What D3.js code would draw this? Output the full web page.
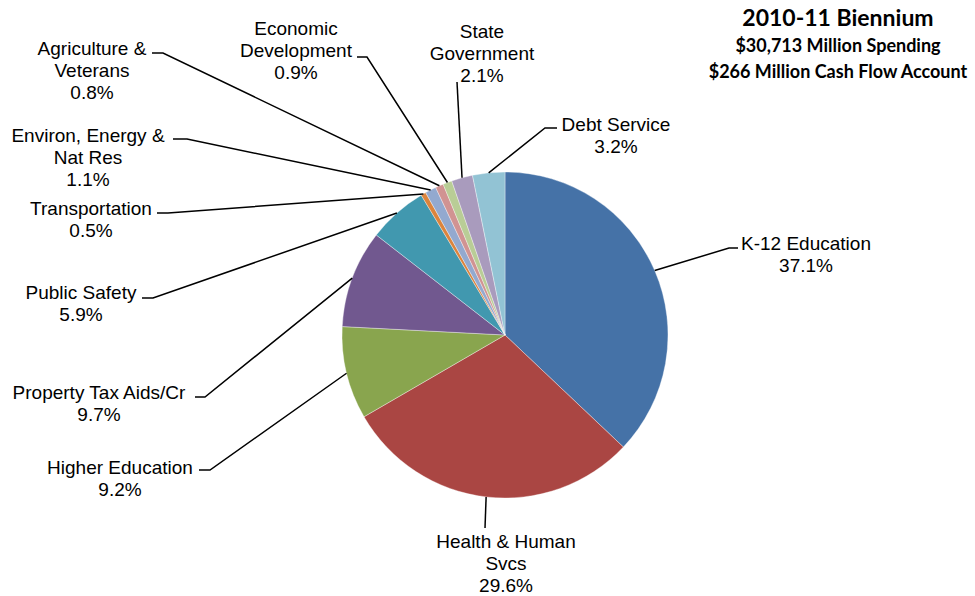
<!DOCTYPE html>
<html>
<head>
<meta charset="utf-8">
<script src="https://cdn.jsdelivr.net/npm/d3@7"></script>
<style>
  body { margin: 0; background: #fff; }
  svg { display: block; }
</style>
</head>
<body>
<div id="chart"></div>
<script>
// data, clockwise from 12 o'clock
const categories = ["K-12 Education", "Health & Human Svcs", "Higher Education", "Property Tax Aids/Cr",
    "Public Safety", "Transportation", "Environ, Energy & Nat Res", "Agriculture & Veterans",
    "Economic Development", "State Government", "Debt Service"];
const shares = [37.1, 29.6, 9.2, 9.7, 5.9, 0.5, 1.1, 0.8, 0.9, 2.1, 3.2];
const labelLines = [
    ["K-12 Education"], ["Health & Human", "Svcs"], ["Higher Education"], ["Property Tax Aids/Cr"],
    ["Public Safety"], ["Transportation"], ["Environ, Energy &", "Nat Res"], ["Agriculture &", "Veterans"],
    ["Economic", "Development"], ["State", "Government"], ["Debt Service"]
];
const titleLines = ["2010-11 Biennium", "$30,713 Million Spending", "$266 Million Cash Flow Account"];
const colors = ["#4572A7", "#AA4643", "#89A54E", "#71588F", "#4198AF", "#DB843D",
    "#93A9CF", "#D19392", "#B9CD96", "#A99BBD", "#92C3D4"];

// label placement: text centre x, first line y, leader elbow and end
const labelLayout = [
    { x: 806, y: 243, ex: 729, ey: 248, tx: 738 },
    { x: 506, y: 541, ex: 485, ey: 528, tx: 485 },
    { x: 120, y: 467, ex: 210, ey: 470, tx: 199 },
    { x: 99,  y: 392, ex: 205, ey: 397, tx: 195 },
    { x: 81,  y: 292, ex: 153, ey: 298, tx: 142 },
    { x: 91,  y: 208, ex: 168, ey: 213, tx: 157 },
    { x: 88,  y: 135, ex: 187, ey: 139, tx: 173 },
    { x: 92,  y: 48,  ex: 163, ey: 53,  tx: 152 },
    { x: 296, y: 28,  ex: 367, ey: 57,  tx: 357 },
    { x: 482, y: 31,  ex: 457, ey: 82,  tx: 457 },
    { x: 616, y: 124, ex: 545, ey: 128, tx: 557 }
];

const width = 975, height = 596;
const cx = 505, cy = 335, radius = 163;
const lineH = 22;

const svg = d3.select("#chart").append("svg")
    .attr("width", width)
    .attr("height", height);

const data = categories.map((c, i) => ({ name: c, value: shares[i], lines: labelLines[i], pos: labelLayout[i], color: colors[i] }));

const pie = d3.pie().sort(null).value(d => d.value);
const arc = d3.arc().innerRadius(0).outerRadius(radius);
const arcs = pie(data);

const g = svg.append("g").attr("transform", `translate(${cx},${cy})`);

g.selectAll("path.slice")
    .data(arcs)
    .enter()
    .append("path")
    .attr("class", "slice")
    .attr("d", arc)
    .attr("fill", d => d.data.color)
    .attr("stroke", "#fff")
    .attr("stroke-opacity", 0.6)
    .attr("stroke-width", 0.6);

// leader lines
svg.selectAll("polyline.leader")
    .data(arcs)
    .enter()
    .append("polyline")
    .attr("class", "leader")
    .attr("points", d => {
        let a = (d.startAngle + d.endAngle) / 2;
        let sx = cx + radius * Math.sin(a);
        let sy = cy - radius * Math.cos(a);
        let p = d.data.pos;
        return [[sx, sy], [p.ex, p.ey], [p.tx, p.ey]].map(q => q.join(",")).join(" ");
    })
    .attr("fill", "none")
    .attr("stroke", "#000")
    .attr("stroke-width", 1.5);

// labels
let labels = svg.selectAll("text.label")
    .data(arcs)
    .enter()
    .append("text")
    .attr("class", "label")
    .attr("text-anchor", "middle")
    .style("font-family", "'Liberation Sans', Arial, sans-serif")
    .style("font-size", "19px")
    .attr("fill", "#000");

labels.each(function (d) {
    let t = d3.select(this);
    let rows = d.data.lines.concat([d.data.value.toFixed(1) + "%"]);
    rows.forEach((r, i) => {
        t.append("tspan")
            .attr("x", d.data.pos.x)
            .attr("y", d.data.pos.y + i * lineH)
            .attr("dy", "0.35em")
            .text(r);
    });
});

// title block
const titleSizes = [23, 18, 18];
const titleY = [18, 46, 72];
svg.selectAll("text.title")
    .data(titleLines)
    .enter()
    .append("text")
    .attr("class", "title")
    .attr("x", 838)
    .attr("y", (d, i) => titleY[i])
    .attr("dy", "0.35em")
    .attr("text-anchor", "middle")
    .style("font-family", "Lato, 'Open Sans', sans-serif")
    .style("font-weight", "bold")
    .style("font-size", (d, i) => titleSizes[i] + "px")
    .text(d => d);
</script>
</body>
</html>
